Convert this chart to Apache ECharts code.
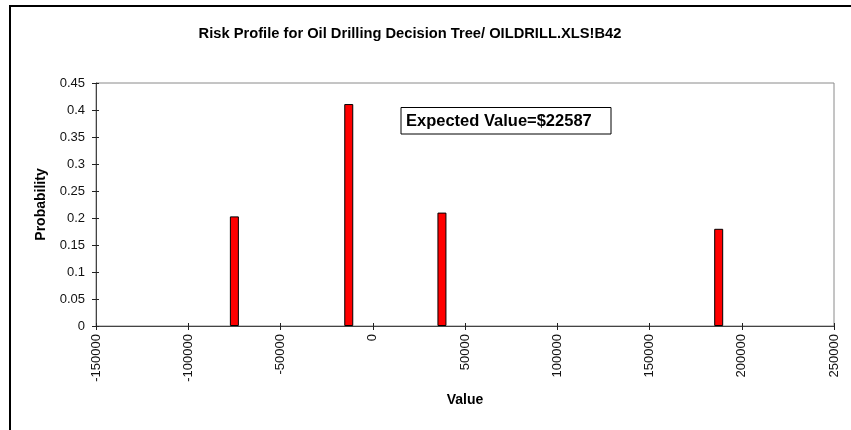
<!DOCTYPE html>
<html>
<head>
<meta charset="utf-8">
<script src="https://cdn.jsdelivr.net/npm/echarts@6/dist/echarts.min.js"></script>
<style>
html,body{margin:0;padding:0;background:#fff;}
#c{width:851px;height:430px;}
</style>
</head>
<body>
<div id="c"></div>
<script>
const titleText = 'Risk Profile for Oil Drilling Decision Tree/ OILDRILL.XLS!B42';
const annotationText = 'Expected Value=$22587';
const values = [-75000, -13000, 37500, 187500];
const probabilities = [0.203, 0.411, 0.210, 0.180];
const xTicks = { min: -150000, max: 250000, interval: 50000 };
const yTicks = { min: 0, max: 0.45, interval: 0.05 };

const chart = echarts.init(document.getElementById('c'), null, {renderer: 'canvas'});
const font = 'Liberation Sans, Arial, sans-serif';
const grid = {left: 96, right: 17, top: 83, bottom: 104};

const baseX = {
  type: 'value', min: xTicks.min, max: xTicks.max, interval: xTicks.interval,
  splitLine: {show: false}
};
const baseY = {
  type: 'value', min: yTicks.min, max: yTicks.max, interval: yTicks.interval,
  splitLine: {show: false}
};

chart.setOption({
  animation: false,
  backgroundColor: '#fff',
  grid: [Object.assign({show: true, borderColor: '#8a8a8a', borderWidth: 1}, grid),
         Object.assign({show: false}, grid)],
  xAxis: [
    Object.assign({}, baseX, {
      gridIndex: 0,
      axisLine: {onZero: false, lineStyle: {color: '#444', width: 1}},
      axisTick: {length: 4, lineStyle: {color: '#222'}},
      axisLabel: {rotate: 90, margin: 8, color: '#111', fontFamily: font, fontSize: 13,
        formatter: v => String(v)},
      name: 'Value', nameLocation: 'middle', nameGap: 67,
      nameTextStyle: {fontFamily: font, fontWeight: 'bold', fontSize: 14, color: '#000'}
    }),
    Object.assign({}, baseX, {
      gridIndex: 1,
      axisLine: {show: false, onZero: false},
      axisTick: {inside: true, length: 3, lineStyle: {color: '#222'}},
      axisLabel: {show: false}
    })
  ],
  yAxis: [
    Object.assign({}, baseY, {
      gridIndex: 0,
      axisLine: {onZero: false, lineStyle: {color: '#444', width: 1}},
      axisTick: {length: 4, lineStyle: {color: '#222'}},
      axisLabel: {margin: 11, color: '#111', fontFamily: font, fontSize: 13,
        formatter: v => String(+v.toFixed(2))},
      name: 'Probability', nameLocation: 'middle', nameGap: 48, nameRotate: 90,
      nameTextStyle: {fontFamily: font, fontWeight: 'bold', fontSize: 14, color: '#000'}
    }),
    Object.assign({}, baseY, {
      gridIndex: 1,
      axisLine: {show: false, onZero: false},
      axisTick: {inside: true, length: 3, lineStyle: {color: '#222'}},
      axisLabel: {show: false}
    })
  ],
  series: [{
    type: 'bar',
    xAxisIndex: 0, yAxisIndex: 0,
    barWidth: 9,
    data: values.map((v, i) => [v, probabilities[i]]),
    itemStyle: {color: '#ff0000', borderColor: '#000', borderWidth: 1}
  }],
  graphic: [
    {type: 'polyline', silent: true,
     shape: {points: [[10, 430], [10, 6], [851, 6]]},
     style: {stroke: '#000', lineWidth: 2, fill: null}},
    {type: 'text', x: 410, y: 34,
     style: {text: titleText, font: 'bold 14.7px ' + font, fill: '#000',
             textAlign: 'center', textVerticalAlign: 'middle'}},
    {type: 'rect', shape: {x: 401, y: 107.5, width: 210, height: 26.5},
     style: {fill: '#fff', stroke: '#000', lineWidth: 1}},
    {type: 'text', x: 406, y: 121,
     style: {text: annotationText, font: 'bold 16.5px ' + font, fill: '#000',
             textAlign: 'left', textVerticalAlign: 'middle'}}
  ]
});
</script>
</body>
</html>
